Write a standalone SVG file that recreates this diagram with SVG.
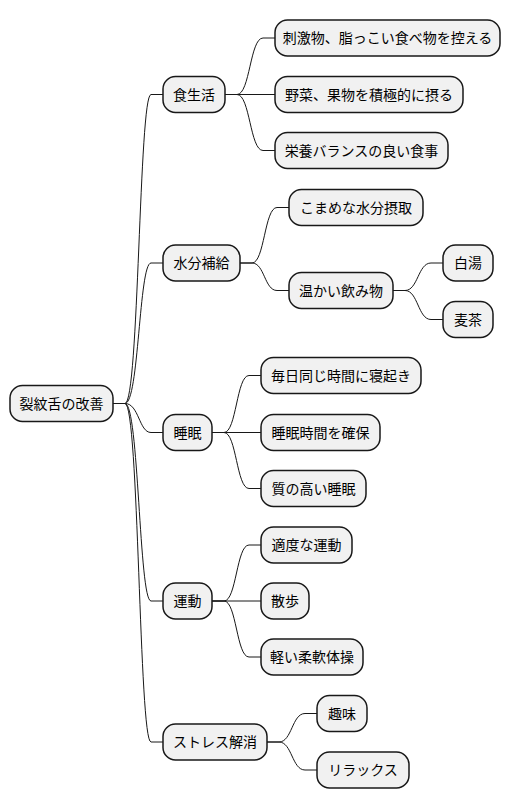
<svg xmlns="http://www.w3.org/2000/svg" width="516" height="809" viewBox="0 0 516 809">
<style>
.n rect{fill:#F1F1F1;stroke:#181818;stroke-width:1.5}
.n text{font-family:"Noto Sans CJK JP","Noto Sans",sans-serif;font-size:14px;fill:#000;text-anchor:middle}
#connectors path{fill:none;stroke:#181818;stroke-width:1}
</style>
<rect width="516" height="809" fill="#FFFFFF"/>
<g id="connectors">
<path d="M113,403.5 L125,403.5 C139,403.5 139,94.5 151,94.5 L163,94.5"/>
<path d="M113,403.5 L125,403.5 C139,403.5 139,263 151,263 L163,263"/>
<path d="M113,403.5 L125,403.5 C139,403.5 139,432.5 151,432.5 L163,432.5"/>
<path d="M113,403.5 L125,403.5 C139,403.5 139,601 151,601 L163,601"/>
<path d="M113,403.5 L125,403.5 C139,403.5 139,742 151,742 L163,742"/>
<path d="M225,94.5 L237,94.5 C250,94.5 250,38 263,38 L275,38"/>
<path d="M225,94.5 L275,94.5"/>
<path d="M225,94.5 L237,94.5 C250,94.5 250,150.5 263,150.5 L275,150.5"/>
<path d="M240,263 L252,263 C264.5,263 264.5,207.5 277,207.5 L289,207.5"/>
<path d="M240,263 L252,263 C264.5,263 264.5,290.5 277,290.5 L289,290.5"/>
<path d="M393,290.5 L405,290.5 C418,290.5 418,263 431,263 L443,263"/>
<path d="M393,290.5 L405,290.5 C418,290.5 418,319.5 431,319.5 L443,319.5"/>
<path d="M212,432.5 L224,432.5 C236.5,432.5 236.5,375.5 249,375.5 L261,375.5"/>
<path d="M212,432.5 L261,432.5"/>
<path d="M212,432.5 L224,432.5 C236.5,432.5 236.5,488.5 249,488.5 L261,488.5"/>
<path d="M212,601 L224,601 C236.5,601 236.5,545 249,545 L261,545"/>
<path d="M212,601 L261,601"/>
<path d="M212,601 L224,601 C236.5,601 236.5,657 249,657 L261,657"/>
<path d="M267,742 L279,742 C292,742 292,713.5 305,713.5 L317,713.5"/>
<path d="M267,742 L279,742 C292,742 292,770 305,770 L317,770"/>
</g>
<g id="root" class="n"><rect x="10" y="385.5" width="103" height="36" rx="12.5"/><text x="61.5" y="408.5">裂紋舌の改善</text></g>
<g id="shoku" class="n"><rect x="163" y="76.5" width="62" height="36" rx="12.5"/><text x="194" y="99.5">食生活</text></g>
<g id="shoku1" class="n"><rect x="275" y="20" width="225" height="36" rx="12.5"/><text x="387.5" y="43">刺激物、脂っこい食べ物を控える</text></g>
<g id="shoku2" class="n"><rect x="275" y="76.5" width="188" height="36" rx="12.5"/><text x="369" y="99.5">野菜、果物を積極的に摂る</text></g>
<g id="shoku3" class="n"><rect x="275" y="132.5" width="173" height="36" rx="12.5"/><text x="361.5" y="155.5">栄養バランスの良い食事</text></g>
<g id="suibun" class="n"><rect x="163" y="245" width="77" height="36" rx="12.5"/><text x="201.5" y="268">水分補給</text></g>
<g id="suibun1" class="n"><rect x="289" y="189.5" width="134" height="36" rx="12.5"/><text x="356" y="212.5">こまめな水分摂取</text></g>
<g id="suibun2" class="n"><rect x="289" y="272.5" width="104" height="36" rx="12.5"/><text x="341" y="295.5">温かい飲み物</text></g>
<g id="sayu" class="n"><rect x="443" y="245" width="50" height="36" rx="12.5"/><text x="468" y="268">白湯</text></g>
<g id="mugicha" class="n"><rect x="443" y="301.5" width="50" height="36" rx="12.5"/><text x="468" y="324.5">麦茶</text></g>
<g id="suimin" class="n"><rect x="163" y="414.5" width="49" height="36" rx="12.5"/><text x="187.5" y="437.5">睡眠</text></g>
<g id="suimin1" class="n"><rect x="261" y="357.5" width="160" height="36" rx="12.5"/><text x="341" y="380.5">毎日同じ時間に寝起き</text></g>
<g id="suimin2" class="n"><rect x="261" y="414.5" width="119" height="36" rx="12.5"/><text x="320.5" y="437.5">睡眠時間を確保</text></g>
<g id="suimin3" class="n"><rect x="261" y="470.5" width="105" height="36" rx="12.5"/><text x="313.5" y="493.5">質の高い睡眠</text></g>
<g id="undou" class="n"><rect x="163" y="583" width="49" height="36" rx="12.5"/><text x="187.5" y="606">運動</text></g>
<g id="undou1" class="n"><rect x="261" y="527" width="91" height="36" rx="12.5"/><text x="306.5" y="550">適度な運動</text></g>
<g id="undou2" class="n"><rect x="261" y="583" width="48" height="36" rx="12.5"/><text x="285" y="606">散歩</text></g>
<g id="undou3" class="n"><rect x="261" y="639" width="102" height="36" rx="12.5"/><text x="312" y="662">軽い柔軟体操</text></g>
<g id="stress" class="n"><rect x="163" y="724" width="104" height="36" rx="12.5"/><text x="215" y="747">ストレス解消</text></g>
<g id="shumi" class="n"><rect x="317" y="695.5" width="50" height="36" rx="12.5"/><text x="342" y="718.5">趣味</text></g>
<g id="relax" class="n"><rect x="317" y="752" width="92" height="36" rx="12.5"/><text x="363" y="775">リラックス</text></g>
</svg>
